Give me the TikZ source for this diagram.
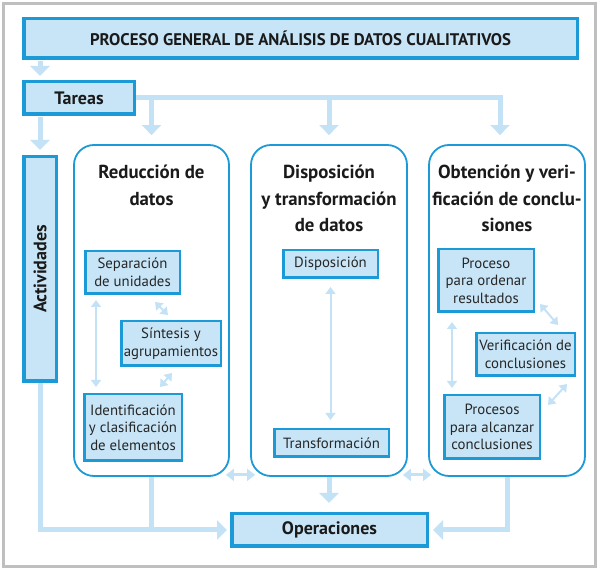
\documentclass[tikz,border=0pt]{standalone}
\usepackage{fontspec}
\setmainfont{PT Sans}
\usepackage{tikz}
\usetikzlibrary{arrows.meta}
\usetikzlibrary{calc}
\definecolor{azul}{HTML}{1B9AD7}
\definecolor{celeste}{HTML}{C7E5F7}
\definecolor{flechac}{HTML}{C4E2F5}
\definecolor{gris}{HTML}{BFBFBF}
\definecolor{negro}{HTML}{1A1A1A}
\definecolor{texto}{HTML}{262626}

\begin{document}
\begin{tikzpicture}[x=1pt,y=1pt,
    caja/.style={draw=azul,fill=celeste,line width=3.5pt,inner sep=0pt,text=negro,font=\fontsize{18}{20}\selectfont\bfseries},
    cajita/.style={draw=azul,fill=celeste,line width=2.5pt,inner sep=0pt,align=center,text=texto,font=\fontsize{14.8}{17.5}\selectfont},
    panel/.style={draw=azul,line width=1.8pt,rounded corners=20pt,minimum height=331pt},
    tpanel/.style={align=center,anchor=north,inner sep=0pt,text=negro,font=\fontsize{18.8}{26.5}\selectfont\bfseries},
    flecha/.style={draw=flechac,line width=5pt,-{Triangle[width=19pt,length=10pt]}},
    linea/.style={draw=flechac,line width=4.5pt},
    doble/.style={draw=flechac,line width=3pt,{Triangle[width=12pt,length=8pt]}-{Triangle[width=12pt,length=8pt]}},
    dobleint/.style={draw=flechac,line width=2pt,{Triangle[width=10pt,length=7pt]}-{Triangle[width=10pt,length=7pt]}}]
    \useasboundingbox (0,0) rectangle (600,570);
    \draw[gris,line width=3pt] (3.5,3.5) rectangle (595.5,566.5);
    \node[caja,minimum width=553.5pt,minimum height=39.5pt,font=\fontsize{16.8}{20}\selectfont\bfseries] (titulo) at (300.5,531.5) {PROCESO GENERAL DE ANÁLISIS DE DATOS CUALITATIVOS};
    \node[caja,minimum width=110.5pt,minimum height=32.5pt] (tareas) at (79,472) {Tareas};
    \node[caja,minimum width=32.5pt,minimum height=224.5pt] (act) at (40,301) {};
    \node[rotate=90,text=negro,font=\fontsize{18}{20}\selectfont\bfseries] (tact) at (act) {Actividades};
    \node[caja,minimum width=195.5pt,minimum height=32.5pt] (oper) at (329.5,40) {Operaciones};
    \node[panel,minimum width=155pt] (red) at (151.5,259.5) {};
    \node[panel,minimum width=156pt] (disp) at (329,259.5) {};
    \node[panel,minimum width=156pt] (obt) at (507,259.5) {};
    \node[tpanel] (tred) at ([yshift=-21pt]red.north) {Reducción de\\datos};
    \node[tpanel] (tdisp) at ([yshift=-21pt]disp.north) {Disposición\\y transformación\\de datos};
    \node[tpanel] (tobt) at ([yshift=-21pt]obt.north) {Obtención y veri-\\ficación de conclu-\\siones};
    \node[cajita,minimum width=94.5pt,minimum height=42.5pt] (sep) at (132.5,297.5) {Separación\\de unidades};
    \node[cajita,minimum width=99.5pt,minimum height=44.5pt] (sint) at (171,226.5) {Síntesis y\\agrupamientos};
    \node[cajita,minimum width=97.5pt,minimum height=66.5pt] (ident) at (133,142.5) {Identificación\\y clasificación\\de elementos};
    \node[cajita,minimum width=94.5pt,minimum height=27.5pt] (dispo) at (330.5,306) {Disposición};
    \node[cajita,minimum width=114.5pt,minimum height=27.5pt] (transf) at (331.5,127) {Transformación};
    \node[cajita,minimum width=95.5pt,minimum height=62.5pt] (proc) at (486,289.5) {Proceso\\para ordenar\\resultados};
    \node[cajita,minimum width=98.5pt,minimum height=42.5pt] (verif) at (525.5,215.5) {Verificación de\\conclusiones};
    \node[cajita,minimum width=95.5pt,minimum height=63.5pt] (alc) at (492,143) {Procesos\\para alcanzar\\conclusiones};
    \draw[flecha,shorten <=1pt,shorten >=4pt] (titulo.south -| act) -- (tareas.north -| act);
    \draw[flecha,shorten <=1pt,shorten >=5pt] (tareas.south -| act) -- (act.north);
    \draw[flecha,shorten >=9pt] (tareas.east) -| ([xshift=-7pt]obt.north);
    \draw[flecha,shorten >=9pt] (tareas.east -| red.north) -- (red.north);
    \draw[flecha,shorten >=9pt] (tareas.east -| disp.north) -- (disp.north);
    \draw[flecha,shorten >=3pt] (act.south) |- (oper.west);
    \draw[linea] (red.south) -- (red.south |- oper.west);
    \draw[flecha,shorten >=9pt] (disp.south) -- (disp.south |- oper.north);
    \draw[flecha,shorten >=4pt] (obt.south) |- (oper.east);
    \draw[doble] ([shift={(-4pt,2pt)}]red.south east) -- ([shift={(5pt,2pt)}]disp.south west);
    \draw[doble] ([shift={(-5pt,2pt)}]disp.south east) -- ([shift={(3pt,2pt)}]obt.south west);
    \draw[dobleint] ([shift={(12pt,-5pt)}]sep.south west) -- ([shift={(13pt,6pt)}]ident.north west);
    \draw[dobleint] ([shift={(-26pt,-7pt)}]sep.south east) -- ([shift={(-3pt,5pt)}]sint.north);
    \draw[dobleint] ([shift={(1pt,-6pt)}]sint.south) -- ([shift={(-23pt,6pt)}]ident.north east);
    \draw[dobleint] ([yshift=-8pt]dispo.south) -- ([yshift=8pt]dispo.south |- transf.north);
    \draw[dobleint] ([shift={(15pt,-9pt)}]proc.south west) -- ([shift={(9pt,6pt)}]alc.north west);
    \draw[dobleint] ([shift={(5pt,9pt)}]proc.south east) -- ([shift={(-18pt,7pt)}]verif.north east);
    \draw[dobleint] ([shift={(7pt,-11pt)}]alc.north east) -- ([shift={(-9pt,-7pt)}]verif.south east);
\end{tikzpicture}
\end{document}
